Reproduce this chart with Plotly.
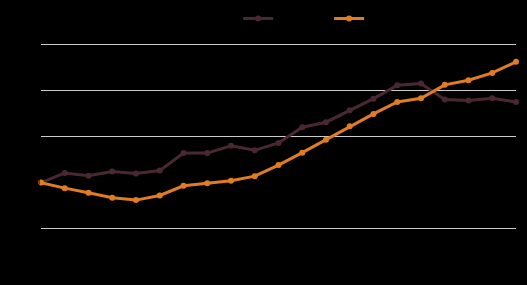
import plotly.graph_objects as go

x_labels = [str(y) for y in range(2000, 2021)]
series_a = [0, 2.1, 1.5, 2.4, 2.0, 2.6, 6.4, 6.4, 8.0, 7.0, 8.6, 12.0, 13.1, 15.7, 18.2, 21.1, 21.5, 18.0, 17.8, 18.3, 17.5]
series_b = [0, -1.2, -2.2, -3.3, -3.8, -2.8, -0.7, -0.15, 0.4, 1.4, 3.8, 6.5, 9.3, 12.2, 14.9, 17.5, 18.3, 21.2, 22.2, 23.8, 26.2]
name_a = "Series A"
name_b = "Series B"
color_a = "#4a2832"
color_b = "#e07d22"

fig = go.Figure()
fig.add_trace(go.Scatter(x=x_labels, y=series_a, name=name_a, mode="lines+markers", cliponaxis=False,
                         line=dict(color=color_a, width=3), marker=dict(size=6, color=color_a)))
fig.add_trace(go.Scatter(x=x_labels, y=series_b, name=name_b, mode="lines+markers", cliponaxis=False,
                         line=dict(color=color_b, width=3), marker=dict(size=6, color=color_b)))

fig.update_layout(
    width=527, height=285,
    paper_bgcolor="black", plot_bgcolor="black",
    margin=dict(l=41, r=11, t=42, b=54, autoexpand=False),
    font=dict(family="Open Sans", size=11, color="black"),
    showlegend=True,
    legend=dict(orientation="h", x=0.415, xanchor="left", y=0.986, yanchor="top",
                yref="container", entrywidth=46, font=dict(color="black"),
                bgcolor="rgba(0,0,0,0)"),
    xaxis=dict(showgrid=False, zeroline=False, showline=False, tickfont=dict(color="black"),
               range=[0, 20], automargin=False),
    yaxis=dict(range=[-10.5, 30.5], dtick=10, showgrid=True, gridcolor="#cccccc", gridwidth=1.2,
               zeroline=True, zerolinecolor="black", zerolinewidth=1.5,
               showline=False, tickfont=dict(color="black"), automargin=False),
)
fig.write_html("out.html")
